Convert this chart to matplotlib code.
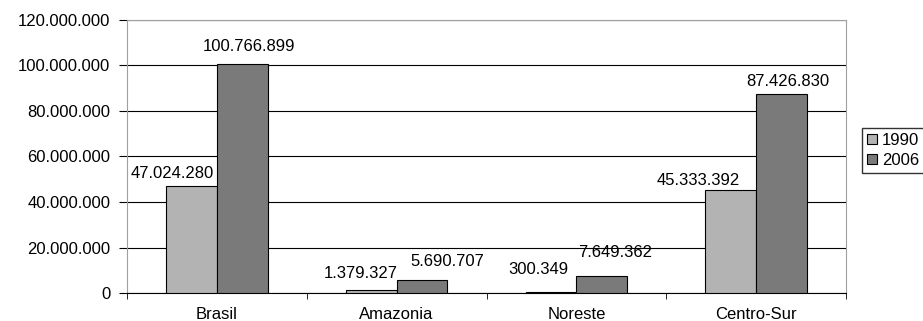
import numpy as np
import matplotlib.pyplot as plt
from matplotlib.ticker import FuncFormatter

plt.rcParams['font.family'] = ['Liberation Sans', 'DejaVu Sans']

regions = ['Brasil', 'Amazonia', 'Noreste', 'Centro-Sur']
v1990 = [47024280, 1379327, 300349, 45333392]
v2006 = [100766899, 5690707, 7649362, 87426830]
yticks = [0, 20000000, 40000000, 60000000, 80000000, 100000000, 120000000]

# label nudges in pixels (dx, dy above bar top), like the original's collision-avoiding placement
nudge1990 = [(-19, 8), (-10, 12), (-13, 18), (-32, 5)]
nudge2006 = [(7, 13), (25, 14), (13, 19), (6, 8)]


def dots(v, pos=None):
    return f"{int(v):,}".replace(',', '.')


fig = plt.figure(figsize=(9.23, 3.21), dpi=100)
ax = fig.add_axes([127 / 923, 1 - 293 / 321, 719 / 923, 273 / 321])

x = np.arange(len(regions))
w = 0.283
b1 = ax.bar(x - w / 2, v1990, w, color='#b3b3b3', edgecolor='black', linewidth=0.8, label='1990', zorder=3)
b2 = ax.bar(x + w / 2, v2006, w, color='#7a7a7a', edgecolor='black', linewidth=0.8, label='2006', zorder=3)

for bars, vals, nud in ((b1, v1990, nudge1990), (b2, v2006, nudge2006)):
    for r, v, (dx, dy) in zip(bars, vals, nud):
        ax.annotate(dots(v), (r.get_x() + r.get_width() / 2, v),
                    xytext=(dx, dy), textcoords='offset pixels',
                    ha='center', va='baseline', fontsize=12)

ax.set_xlim(-0.5, len(regions) - 0.5)
ax.set_ylim(0, 120000000)
ax.set_yticks(yticks)
ax.yaxis.set_major_formatter(FuncFormatter(dots))
ax.set_xticks(x)
ax.set_xticklabels(regions)
ax.set_xticks(np.arange(-0.5, len(regions)), minor=True)
ax.tick_params(axis='x', which='major', length=0, labelsize=12, pad=10)
ax.tick_params(axis='x', which='minor', length=4.5, direction='out', color='black')
ax.tick_params(axis='y', length=6, direction='out', labelsize=12, color='black', pad=6)
ax.yaxis.grid(True, color='black', linewidth=0.8, zorder=0)
ax.set_axisbelow(True)

for s in ('left', 'right', 'top'):
    ax.spines[s].set_color('#a0a0a0')
ax.spines['bottom'].set_color('black')

fig.legend(loc='upper left', bbox_to_anchor=(862 / 923, 1 - 128 / 321),
           frameon=True, fancybox=False, edgecolor='black', fontsize=12,
           handlelength=0.6, handleheight=0.6, handletextpad=0.3,
           borderpad=0.3, labelspacing=0.3, borderaxespad=0)

fig.savefig('out.png', dpi=100)
